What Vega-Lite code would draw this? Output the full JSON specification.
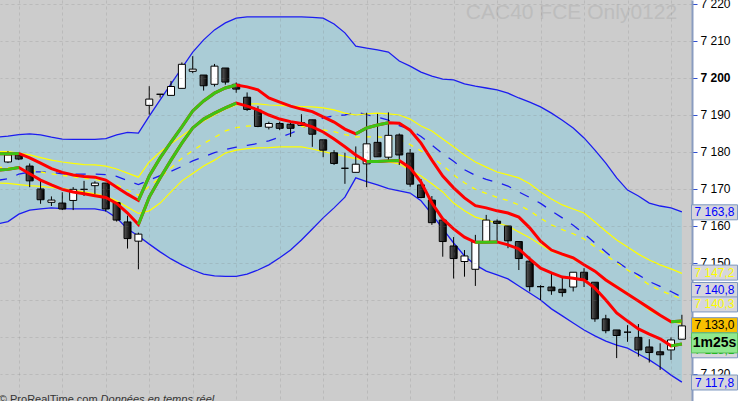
{
 "$schema": "https://vega.github.io/schema/vega-lite/v6.json",
 "width": 692,
 "height": 401,
 "autosize": {"type": "none"},
 "padding": {"left": 0, "top": 0, "right": 49, "bottom": 0},
 "background": "#ffffff",
 "config": {"view": {"fill": "#cccccc", "stroke": null}, "font": "Liberation Sans"},
 "datasets": {
  "main": [
   {"i":-1,"bu":7184.0,"bl":7160.5,"bm":7172.3,"yu":7180.1,"yl":7171.6,"ym":7175.9,"tu":7179.5,"tl":7175.1},
   {"i":0,"o":7177.3,"h":7180.2,"l":7177.0,"c":7179.2,"bu":7184.3,"bl":7161.2,"bm":7172.8,"yu":7180.1,"yl":7171.5,"ym":7175.8,"tu":7179.5,"tl":7175.3},
   {"i":1,"o":7179.2,"h":7179.8,"l":7177.8,"c":7178.1,"bu":7184.7,"bl":7163.2,"bm":7174.0,"yu":7179.7,"yl":7171.2,"ym":7175.5,"tu":7179.6,"tl":7175.8},
   {"i":2,"o":7176.2,"h":7176.9,"l":7170.5,"c":7172.2,"bu":7184.9,"bl":7164.3,"bm":7174.6,"yu":7179.2,"yl":7170.9,"ym":7175.1,"tu":7178.4,"tl":7174.1},
   {"i":3,"o":7170.0,"h":7172.7,"l":7166.0,"c":7167.1,"bu":7184.6,"bl":7164.6,"bm":7174.6,"yu":7178.5,"yl":7170.7,"ym":7174.6,"tu":7177.0,"tl":7172.4},
   {"i":4,"o":7166.4,"h":7168.0,"l":7165.4,"c":7167.0,"bu":7184.0,"bl":7164.9,"bm":7174.5,"yu":7177.8,"yl":7170.4,"ym":7174.1,"tu":7175.5,"tl":7171.1},
   {"i":5,"o":7166.2,"h":7169.1,"l":7164.3,"c":7164.6,"bu":7183.5,"bl":7164.7,"bm":7174.1,"yu":7177.3,"yl":7170.1,"ym":7173.7,"tu":7174.5,"tl":7169.9},
   {"i":6,"o":7166.9,"h":7170.5,"l":7164.3,"c":7169.9,"bu":7183.4,"bl":7164.6,"bm":7174.0,"yu":7176.9,"yl":7169.7,"ym":7173.3,"tu":7173.8,"tl":7169.2},
   {"i":7,"o":7169.9,"h":7172.2,"l":7168.1,"c":7169.9,"bu":7183.4,"bl":7164.6,"bm":7174.0,"yu":7176.6,"yl":7169.2,"ym":7172.9,"tu":7173.4,"tl":7168.7},
   {"i":8,"o":7170.9,"h":7172.1,"l":7168.6,"c":7171.6,"bu":7183.4,"bl":7164.6,"bm":7174.0,"yu":7176.5,"yl":7168.7,"ym":7172.6,"tu":7173.2,"tl":7168.2},
   {"i":9,"o":7171.6,"h":7171.6,"l":7163.9,"c":7164.6,"bu":7183.6,"bl":7164.1,"bm":7173.9,"yu":7176.2,"yl":7168.0,"ym":7172.1,"tu":7172.4,"tl":7167.7},
   {"i":10,"o":7166.3,"h":7166.5,"l":7161.2,"c":7161.6,"bu":7184.6,"bl":7162.2,"bm":7173.4,"yu":7175.4,"yl":7166.8,"ym":7171.1,"tu":7170.5,"tl":7166.1},
   {"i":11,"o":7161.1,"h":7162.8,"l":7153.9,"c":7156.6,"bu":7185.3,"bl":7159.2,"bm":7172.3,"yu":7174.3,"yl":7165.1,"ym":7169.7,"tu":7168.6,"tl":7163.5},
   {"i":12,"o":7155.9,"h":7158.2,"l":7148.3,"c":7157.8,"bu":7185.1,"bl":7157.3,"bm":7171.2,"yu":7173.2,"yl":7163.4,"ym":7168.3,"tu":7166.9,"tl":7160.4},
   {"i":13,"o":7192.6,"h":7197.8,"l":7190.1,"c":7194.3,"bu":7189.7,"bl":7155.1,"bm":7172.4,"yu":7177.3,"yl":7164.1,"ym":7170.7,"tu":7173.5,"tl":7167.8},
   {"i":14,"o":7195.6,"h":7195.6,"l":7194.7,"c":7195.6,"bu":7194.1,"bl":7153.0,"bm":7173.6,"yu":7180.0,"yl":7166.2,"ym":7173.1,"tu":7178.4,"tl":7173.0},
   {"i":15,"o":7195.3,"h":7199.2,"l":7195.3,"c":7197.7,"bu":7198.4,"bl":7151.1,"bm":7174.8,"yu":7182.2,"yl":7169.2,"ym":7175.7,"tu":7182.7,"tl":7177.8},
   {"i":16,"o":7197.2,"h":7204.2,"l":7197.2,"c":7203.7,"bu":7202.7,"bl":7149.5,"bm":7176.1,"yu":7184.3,"yl":7172.2,"ym":7178.3,"tu":7186.8,"tl":7182.4},
   {"i":17,"o":7201.8,"h":7205.9,"l":7201.3,"c":7202.4,"bu":7207.0,"bl":7148.1,"bm":7177.6,"yu":7186.5,"yl":7174.2,"ym":7180.4,"tu":7191.1,"tl":7186.5},
   {"i":18,"o":7200.8,"h":7200.8,"l":7196.6,"c":7197.9,"bu":7210.3,"bl":7147.0,"bm":7178.7,"yu":7188.4,"yl":7176.2,"ym":7182.3,"tu":7193.8,"tl":7188.9},
   {"i":19,"o":7198.3,"h":7203.8,"l":7197.7,"c":7203.2,"bu":7213.0,"bl":7146.5,"bm":7179.8,"yu":7190.0,"yl":7177.8,"ym":7183.9,"tu":7195.9,"tl":7190.5},
   {"i":20,"o":7202.7,"h":7202.7,"l":7198.2,"c":7198.9,"bu":7214.9,"bl":7146.4,"bm":7180.7,"yu":7191.6,"yl":7179.7,"ym":7185.7,"tu":7197.3,"tl":7191.9},
   {"i":21,"o":7198.3,"h":7198.8,"l":7196.0,"c":7197.0,"bu":7216.2,"bl":7146.4,"bm":7181.3,"yu":7192.7,"yl":7180.5,"ym":7186.6,"tu":7198.1,"tl":7193.2},
   {"i":22,"o":7194.8,"h":7196.1,"l":7191.1,"c":7191.5,"bu":7216.5,"bl":7147.0,"bm":7181.8,"yu":7193.0,"yl":7180.9,"ym":7187.0,"tu":7197.6,"tl":7192.4},
   {"i":23,"o":7191.3,"h":7192.4,"l":7186.7,"c":7186.9,"bu":7216.5,"bl":7148.1,"bm":7182.3,"yu":7193.0,"yl":7181.1,"ym":7187.1,"tu":7196.8,"tl":7191.4},
   {"i":24,"o":7186.7,"h":7188.2,"l":7186.1,"c":7187.7,"bu":7216.5,"bl":7149.5,"bm":7183.0,"yu":7192.7,"yl":7181.2,"ym":7187.0,"tu":7194.6,"tl":7190.0},
   {"i":25,"o":7187.7,"h":7188.2,"l":7185.9,"c":7186.4,"bu":7216.5,"bl":7151.4,"bm":7184.0,"yu":7192.6,"yl":7181.4,"ym":7187.0,"tu":7193.5,"tl":7188.9},
   {"i":26,"o":7187.5,"h":7188.2,"l":7184.1,"c":7186.4,"bu":7216.5,"bl":7153.5,"bm":7185.0,"yu":7192.4,"yl":7181.4,"ym":7186.9,"tu":7192.4,"tl":7188.2},
   {"i":27,"o":7187.2,"h":7190.2,"l":7187.2,"c":7187.9,"bu":7216.5,"bl":7156.2,"bm":7186.4,"yu":7192.3,"yl":7181.4,"ym":7186.9,"tu":7191.6,"tl":7187.7},
   {"i":28,"o":7188.7,"h":7188.7,"l":7181.4,"c":7184.8,"bu":7216.4,"bl":7159.2,"bm":7187.8,"yu":7192.2,"yl":7180.8,"ym":7186.5,"tu":7190.9,"tl":7186.8},
   {"i":29,"o":7183.3,"h":7183.3,"l":7178.6,"c":7180.5,"bu":7216.2,"bl":7162.2,"bm":7189.2,"yu":7191.9,"yl":7180.1,"ym":7186.0,"tu":7189.5,"tl":7185.4},
   {"i":30,"o":7179.8,"h":7180.5,"l":7176.5,"c":7176.9,"bu":7214.6,"bl":7164.9,"bm":7189.8,"yu":7191.4,"yl":7179.5,"ym":7185.5,"tu":7188.1,"tl":7183.5},
   {"i":31,"o":7175.6,"h":7179.8,"l":7171.4,"c":7175.6,"bu":7212.2,"bl":7167.8,"bm":7190.0,"yu":7190.5,"yl":7178.8,"ym":7184.7,"tu":7186.2,"tl":7181.4},
   {"i":32,"o":7174.5,"h":7181.5,"l":7174.5,"c":7176.7,"bu":7208.6,"bl":7173.0,"bm":7190.8,"yu":7190.0,"yl":7178.2,"ym":7184.1,"tu":7184.9,"tl":7179.2},
   {"i":33,"o":7176.8,"h":7190.6,"l":7170.5,"c":7182.2,"bu":7208.1,"bl":7172.0,"bm":7190.1,"yu":7190.3,"yl":7177.8,"ym":7184.1,"tu":7186.5,"tl":7177.4},
   {"i":34,"o":7182.6,"h":7190.3,"l":7178.7,"c":7178.7,"bu":7207.6,"bl":7171.1,"bm":7189.4,"yu":7190.5,"yl":7177.6,"ym":7184.1,"tu":7187.3,"tl":7177.4},
   {"i":35,"o":7178.6,"h":7190.7,"l":7177.4,"c":7184.5,"bu":7207.0,"bl":7170.1,"bm":7188.6,"yu":7190.3,"yl":7177.3,"ym":7183.8,"tu":7187.9,"tl":7177.6},
   {"i":36,"o":7184.6,"h":7185.0,"l":7176.5,"c":7179.2,"bu":7204.6,"bl":7169.5,"bm":7187.1,"yu":7190.0,"yl":7176.8,"ym":7183.4,"tu":7187.8,"tl":7177.7},
   {"i":37,"o":7179.7,"h":7180.8,"l":7170.6,"c":7171.3,"bu":7203.2,"bl":7168.9,"bm":7186.1,"yu":7188.9,"yl":7175.1,"ym":7182.0,"tu":7185.9,"tl":7175.7},
   {"i":38,"o":7171.1,"h":7172.7,"l":7167.5,"c":7167.7,"bu":7201.6,"bl":7166.8,"bm":7184.2,"yu":7187.0,"yl":7173.5,"ym":7180.3,"tu":7182.4,"tl":7171.9},
   {"i":39,"o":7167.0,"h":7168.1,"l":7160.3,"c":7160.9,"bu":7200.5,"bl":7163.2,"bm":7181.9,"yu":7185.7,"yl":7171.4,"ym":7178.6,"tu":7177.8,"tl":7166.2},
   {"i":40,"o":7161.6,"h":7161.6,"l":7151.7,"c":7155.8,"bu":7199.7,"bl":7159.2,"bm":7179.5,"yu":7183.5,"yl":7169.2,"ym":7176.4,"tu":7173.5,"tl":7161.9},
   {"i":41,"o":7154.6,"h":7157.0,"l":7145.8,"c":7151.2,"bu":7199.5,"bl":7155.4,"bm":7177.5,"yu":7181.4,"yl":7166.2,"ym":7173.8,"tu":7170.3,"tl":7159.2},
   {"i":42,"o":7150.4,"h":7153.5,"l":7146.3,"c":7151.9,"bu":7198.4,"bl":7151.9,"bm":7175.2,"yu":7179.2,"yl":7164.1,"ym":7171.7,"tu":7167.6,"tl":7157.0},
   {"i":43,"o":7148.3,"h":7157.6,"l":7143.8,"c":7155.7,"bu":7197.8,"bl":7149.5,"bm":7173.7,"yu":7177.3,"yl":7162.4,"ym":7169.9,"tu":7165.5,"tl":7155.6},
   {"i":44,"o":7155.8,"h":7163.0,"l":7155.8,"c":7161.6,"bu":7197.3,"bl":7147.8,"bm":7172.6,"yu":7175.9,"yl":7161.6,"ym":7168.8,"tu":7164.9,"tl":7155.6},
   {"i":45,"o":7161.3,"h":7161.8,"l":7155.3,"c":7160.7,"bu":7196.8,"bl":7146.8,"bm":7171.8,"yu":7174.6,"yl":7160.8,"ym":7167.7,"tu":7164.1,"tl":7155.7},
   {"i":46,"o":7160.0,"h":7160.0,"l":7154.0,"c":7156.0,"bu":7195.9,"bl":7145.7,"bm":7170.8,"yu":7173.8,"yl":7160.0,"ym":7166.9,"tu":7163.5,"tl":7154.9},
   {"i":47,"o":7155.8,"h":7155.8,"l":7148.1,"c":7151.2,"bu":7194.6,"bl":7143.8,"bm":7169.2,"yu":7173.0,"yl":7158.4,"ym":7165.7,"tu":7162.4,"tl":7153.8},
   {"i":48,"o":7150.5,"h":7151.7,"l":7142.3,"c":7143.6,"bu":7193.5,"bl":7141.9,"bm":7167.7,"yu":7171.4,"yl":7156.8,"ym":7164.1,"tu":7159.5,"tl":7151.1},
   {"i":49,"o":7143.6,"h":7144.0,"l":7140.0,"c":7143.6,"bu":7192.2,"bl":7140.0,"bm":7166.1,"yu":7169.2,"yl":7154.9,"ym":7162.1,"tu":7155.9,"tl":7148.6},
   {"i":50,"o":7143.5,"h":7147.4,"l":7141.4,"c":7142.5,"bu":7190.5,"bl":7137.6,"bm":7164.1,"yu":7167.3,"yl":7153.2,"ym":7160.3,"tu":7153.5,"tl":7147.3},
   {"i":51,"o":7142.9,"h":7146.5,"l":7140.9,"c":7142.0,"bu":7188.6,"bl":7135.7,"bm":7162.2,"yu":7165.7,"yl":7152.2,"ym":7159.0,"tu":7152.4,"tl":7146.2},
   {"i":52,"o":7143.5,"h":7147.5,"l":7142.3,"c":7147.5,"bu":7186.5,"bl":7133.8,"bm":7160.2,"yu":7164.6,"yl":7151.1,"ym":7157.9,"tu":7151.4,"tl":7145.9},
   {"i":53,"o":7147.5,"h":7148.6,"l":7143.5,"c":7145.4,"bu":7183.8,"bl":7131.9,"bm":7157.9,"yu":7163.5,"yl":7149.5,"ym":7156.5,"tu":7149.5,"tl":7145.4},
   {"i":54,"o":7144.8,"h":7144.8,"l":7134.1,"c":7134.9,"bu":7180.5,"bl":7130.3,"bm":7155.4,"yu":7161.1,"yl":7147.6,"ym":7154.4,"tu":7147.8,"tl":7143.2},
   {"i":55,"o":7134.9,"h":7136.0,"l":7131.0,"c":7131.7,"bu":7177.0,"bl":7128.9,"bm":7153.0,"yu":7158.6,"yl":7145.7,"ym":7152.2,"tu":7145.4,"tl":7140.0},
   {"i":56,"o":7131.9,"h":7131.9,"l":7124.3,"c":7130.4,"bu":7173.0,"bl":7127.8,"bm":7150.4,"yu":7156.2,"yl":7143.8,"ym":7150.0,"tu":7143.5,"tl":7136.5},
   {"i":57,"o":7131.3,"h":7133.2,"l":7128.7,"c":7131.3,"bu":7169.7,"bl":7127.0,"bm":7148.4,"yu":7154.3,"yl":7141.9,"ym":7148.1,"tu":7141.6,"tl":7134.3},
   {"i":58,"o":7129.9,"h":7133.5,"l":7124.7,"c":7126.5,"bu":7168.1,"bl":7125.4,"bm":7146.8,"yu":7152.4,"yl":7139.7,"ym":7146.1,"tu":7139.7,"tl":7132.2},
   {"i":59,"o":7127.3,"h":7129.4,"l":7123.1,"c":7125.8,"bu":7166.2,"bl":7123.8,"bm":7145.0,"yu":7150.8,"yl":7137.3,"ym":7144.1,"tu":7137.8,"tl":7130.8},
   {"i":60,"o":7126.0,"h":7128.3,"l":7121.1,"c":7125.2,"bu":7165.4,"bl":7121.9,"bm":7143.7,"yu":7149.5,"yl":7135.7,"ym":7142.6,"tu":7135.9,"tl":7129.5},
   {"i":61,"o":7126.5,"h":7129.9,"l":7123.8,"c":7129.2,"bu":7164.9,"bl":7119.7,"bm":7142.3,"yu":7148.4,"yl":7134.3,"ym":7141.4,"tu":7134.1,"tl":7127.6},
   {"i":62,"o":7129.4,"h":7136.0,"l":7129.4,"c":7133.0,"bu":7163.8,"bl":7117.8,"bm":7140.8,"yu":7147.2,"yl":7133.5,"ym":7140.3,"tu":7134.3,"tl":7128.1}
  ],
  "green": [
   {"i":-1,"p":7179.5,"run":"u1"},{"i":0,"p":7179.5,"run":"u1"},{"i":1,"p":7179.6,"run":"u1"},
   {"i":12,"p":7166.9,"run":"u2"},{"i":13,"p":7173.5,"run":"u2"},{"i":14,"p":7178.4,"run":"u2"},{"i":15,"p":7182.7,"run":"u2"},{"i":16,"p":7186.8,"run":"u2"},{"i":17,"p":7191.1,"run":"u2"},{"i":18,"p":7193.8,"run":"u2"},{"i":19,"p":7195.9,"run":"u2"},{"i":20,"p":7197.3,"run":"u2"},{"i":21,"p":7198.1,"run":"u2"},
   {"i":32,"p":7184.9,"run":"u3"},{"i":33,"p":7186.5,"run":"u3"},{"i":34,"p":7187.3,"run":"u3"},{"i":35,"p":7187.9,"run":"u3"},
   {"i":61,"p":7134.1,"run":"u4"},{"i":62,"p":7134.3,"run":"u4"},
   {"i":-1,"p":7175.1,"run":"l1"},{"i":0,"p":7175.3,"run":"l1"},{"i":1,"p":7175.8,"run":"l1"},
   {"i":12,"p":7160.4,"run":"l2"},{"i":13,"p":7167.8,"run":"l2"},{"i":14,"p":7173.0,"run":"l2"},{"i":15,"p":7177.8,"run":"l2"},{"i":16,"p":7182.4,"run":"l2"},{"i":17,"p":7186.5,"run":"l2"},{"i":18,"p":7188.9,"run":"l2"},{"i":19,"p":7190.5,"run":"l2"},{"i":20,"p":7191.9,"run":"l2"},{"i":21,"p":7193.2,"run":"l2"},
   {"i":33,"p":7177.4,"run":"l3"},{"i":34,"p":7177.4,"run":"l3"},{"i":35,"p":7177.6,"run":"l3"},{"i":36,"p":7177.7,"run":"l3"},
   {"i":43,"p":7155.6,"run":"l4"},{"i":44,"p":7155.6,"run":"l4"},{"i":45,"p":7155.7,"run":"l4"},
   {"i":61,"p":7127.6,"run":"l5"},{"i":62,"p":7128.1,"run":"l5"}
  ],
  "notes": [
   {"i":61.56,"p":7215.9,"t":"CAC40 FCE Only0122","part":"title"},
   {"i":8.25,"p":7112.2,"t":"© ProRealTime.com","part":"src"},
   {"i":8.52,"p":7112.2,"t":"Données en temps réel","part":"rt"}
  ],
  "lab": [
   {"i":65,"pos":7163.7,"t":"7 163,8","kind":"blue"},
   {"i":65,"pos":7147.4,"t":"7 147,2","kind":"yellow"},
   {"i":65,"pos":7142.7,"t":"7 140,8","kind":"blue"},
   {"i":65,"pos":7138.8,"t":"7 140,3","kind":"yellow"},
   {"i":65,"pos":7126.4,"t":"7 128,1","kind":"green"},
   {"i":65,"pos":7133.2,"t":"7 133,0","kind":"close"},
   {"i":65,"pos":7117.7,"t":"7 117,8","kind":"blue"}
  ],
  "timer": [
   {"i":65,"pos":7128.4,"t":"1m25s"}
  ]
 },
 "data": {"name": "main"},
 "encoding": {
  "x": {"field": "i", "type": "quantitative",
        "scale": {"domain": [-0.272, 62.47], "nice": false, "zero": false},
        "axis": {"values": [1,5,9,13,17,21,25,29,33,37,41,45,49,53,57,61], "grid": true, "gridDash": [3,3], "gridColor": "#7a7a7a", "gridOpacity": 0.22, "labels": false, "ticks": false, "domain": false, "title": null, "zindex": 1}}
 },
 "resolve": {"axis": {"y": "independent"}},
 "layer": [
  {"mark": {"type": "area", "fill": "#aaccd6", "clip": true},
   "encoding": {"y": {"field": "bl", "type": "quantitative", "scale": {"domain": [7112.7, 7221.08], "nice": false, "zero": false},
     "axis": {"orient": "right", "values": [7120,7130,7140,7150,7160,7170,7180,7190,7200,7210,7220], "grid": true, "gridDash": [3,3], "gridColor": "#7a7a7a", "gridOpacity": 0.22, "labels": false, "ticks": false, "domain": false, "title": null, "zindex": 1}},
    "y2": {"field": "bu"}}},
  {"mark": {"type": "line", "stroke": "#1c1cf0", "strokeWidth": 1.3, "clip": true},
   "encoding": {"y": {"field": "bu", "type": "quantitative", "scale": {"domain": [7112.7, 7221.08], "nice": false, "zero": false}, "axis": null}}},
  {"mark": {"type": "line", "stroke": "#1c1cf0", "strokeWidth": 1.3, "clip": true},
   "encoding": {"y": {"field": "bl", "type": "quantitative", "scale": {"domain": [7112.7, 7221.08], "nice": false, "zero": false}, "axis": null}}},
  {"mark": {"type": "line", "stroke": "#1c1cf0", "strokeWidth": 1.3, "strokeDash": [10, 10], "clip": true},
   "encoding": {"y": {"field": "bm", "type": "quantitative", "scale": {"domain": [7112.7, 7221.08], "nice": false, "zero": false}, "axis": null}}},
  {"mark": {"type": "line", "stroke": "#ffff00", "strokeWidth": 1.2, "clip": true},
   "encoding": {"y": {"field": "yu", "type": "quantitative", "scale": {"domain": [7112.7, 7221.08], "nice": false, "zero": false}, "axis": null}}},
  {"mark": {"type": "line", "stroke": "#ffff00", "strokeWidth": 1.2, "clip": true},
   "encoding": {"y": {"field": "yl", "type": "quantitative", "scale": {"domain": [7112.7, 7221.08], "nice": false, "zero": false}, "axis": null}}},
  {"mark": {"type": "line", "stroke": "#ffff00", "strokeWidth": 1.3, "strokeDash": [5, 6], "clip": true},
   "encoding": {"y": {"field": "ym", "type": "quantitative", "scale": {"domain": [7112.7, 7221.08], "nice": false, "zero": false}, "axis": null}}},
  {"transform": [{"filter": "isValid(datum.o)"}],
   "mark": {"type": "rule", "color": "#000000", "strokeWidth": 1},
   "encoding": {"y": {"field": "l", "type": "quantitative", "scale": {"domain": [7112.7, 7221.08], "nice": false, "zero": false}, "axis": null}, "y2": {"field": "h"}}},
  {"transform": [{"filter": "isValid(datum.o) && datum.c >= datum.o"}],
   "mark": {"type": "bar", "size": 7, "fill": "#ffffff", "stroke": "#000000", "strokeWidth": 1},
   "encoding": {"y": {"field": "o", "type": "quantitative", "scale": {"domain": [7112.7, 7221.08], "nice": false, "zero": false}, "axis": null}, "y2": {"field": "c"}}},
  {"transform": [{"filter": "isValid(datum.o) && datum.c < datum.o"}],
   "mark": {"type": "bar", "size": 7, "stroke": "#000000", "strokeWidth": 1,
     "fill": {"gradient": "linear", "x1": 0, "y1": 0, "x2": 1, "y2": 0, "stops": [{"offset": 0, "color": "#5a5a5a"}, {"offset": 1, "color": "#000000"}]}},
   "encoding": {"y": {"field": "o", "type": "quantitative", "scale": {"domain": [7112.7, 7221.08], "nice": false, "zero": false}, "axis": null}, "y2": {"field": "c"}}},
  {"mark": {"type": "line", "stroke": "#ff0000", "strokeWidth": 3, "clip": true},
   "encoding": {"y": {"field": "tu", "type": "quantitative", "scale": {"domain": [7112.7, 7221.08], "nice": false, "zero": false},
     "axis": {"orient": "right", "values": [7120,7130,7140,7150,7160,7170,7180,7190,7200,7210,7220],
       "labelExpr": "replace(format(datum.value, ',.0f'), ',', ' ')",
       "labelFont": "Liberation Sans", "labelFontSize": 12, "labelColor": "#000000",
       "labelFontWeight": {"condition": {"test": "datum.value == 7200", "value": "bold"}, "value": "normal"},
       "labelPadding": 3, "tickColor": "#3050d0", "tickSize": 5, "domainColor": "#8a9cc0", "domainWidth": 2,
       "grid": false, "title": null, "zindex": 0}}}},
  {"mark": {"type": "line", "stroke": "#ff0000", "strokeWidth": 3, "clip": true},
   "encoding": {"y": {"field": "tl", "type": "quantitative", "scale": {"domain": [7112.7, 7221.08], "nice": false, "zero": false}, "axis": null}}},
  {"data": {"name": "green"},
   "mark": {"type": "line", "stroke": "#3cc414", "strokeWidth": 3, "clip": true},
   "encoding": {"y": {"field": "p", "type": "quantitative", "scale": {"domain": [7112.7, 7221.08], "nice": false, "zero": false}, "axis": null}, "detail": {"field": "run"}}},
  {"data": {"name": "notes"},
   "transform": [{"filter": "datum.part == 'title'"}],
   "mark": {"type": "text", "align": "right", "baseline": "alphabetic", "fontSize": 21, "font": "Liberation Sans", "color": "#bdbdbd"},
   "encoding": {"y": {"field": "p", "type": "quantitative", "scale": {"domain": [7112.7, 7221.08], "nice": false, "zero": false}, "axis": null}, "text": {"field": "t"}}},
  {"data": {"name": "notes"},
   "transform": [{"filter": "datum.part == 'src'"}],
   "mark": {"type": "text", "align": "right", "baseline": "alphabetic", "fontSize": 11, "font": "Liberation Sans", "color": "#333333"},
   "encoding": {"y": {"field": "p", "type": "quantitative", "scale": {"domain": [7112.7, 7221.08], "nice": false, "zero": false}, "axis": null}, "text": {"field": "t"}}},
  {"data": {"name": "notes"},
   "transform": [{"filter": "datum.part == 'rt'"}],
   "mark": {"type": "text", "align": "left", "baseline": "alphabetic", "fontSize": 11, "fontStyle": "italic", "font": "Liberation Sans", "color": "#333333"},
   "encoding": {"y": {"field": "p", "type": "quantitative", "scale": {"domain": [7112.7, 7221.08], "nice": false, "zero": false}, "axis": null}, "text": {"field": "t"}}},
  {"data": {"name": "lab"},
   "mark": {"type": "point", "shape": "M-1,-0.326L1,-0.326L1,0.326L-1,0.326Z", "size": 2116, "filled": true, "opacity": 1, "stroke": "#7d98c0", "strokeWidth": 1},
   "encoding": {"y": {"field": "pos", "type": "quantitative", "scale": {"domain": [7112.7, 7221.08], "nice": false, "zero": false}, "axis": null},
     "fill": {"field": "kind", "type": "nominal", "scale": {"domain": ["blue", "yellow", "green", "close"], "range": ["#d6d6dc", "#d6d6dc", "#d6d6dc", "#f8c000"]}, "legend": null}}},
  {"data": {"name": "lab"},
   "mark": {"type": "text", "align": "center", "baseline": "middle", "fontSize": 12, "font": "Liberation Sans"},
   "encoding": {"y": {"field": "pos", "type": "quantitative", "scale": {"domain": [7112.7, 7221.08], "nice": false, "zero": false}, "axis": null},
     "text": {"field": "t"},
     "color": {"field": "kind", "type": "nominal", "scale": {"domain": ["blue", "yellow", "green", "close"], "range": ["#0000ff", "#ffff00", "#00b000", "#000000"]}, "legend": null}}},
  {"data": {"name": "timer"},
   "mark": {"type": "point", "shape": "M-1,-0.435L1,-0.435L1,0.435L-1,0.435Z", "size": 2116, "filled": true, "opacity": 1, "fill": "#8fe88f", "stroke": "#5cc05c", "strokeWidth": 1},
   "encoding": {"y": {"field": "pos", "type": "quantitative", "scale": {"domain": [7112.7, 7221.08], "nice": false, "zero": false}, "axis": null}}},
  {"data": {"name": "timer"},
   "mark": {"type": "text", "align": "center", "baseline": "middle", "fontSize": 14, "fontWeight": "bold", "font": "Liberation Sans", "color": "#000000"},
   "encoding": {"y": {"field": "pos", "type": "quantitative", "scale": {"domain": [7112.7, 7221.08], "nice": false, "zero": false}, "axis": null}, "text": {"field": "t"}}}
 ]
}
